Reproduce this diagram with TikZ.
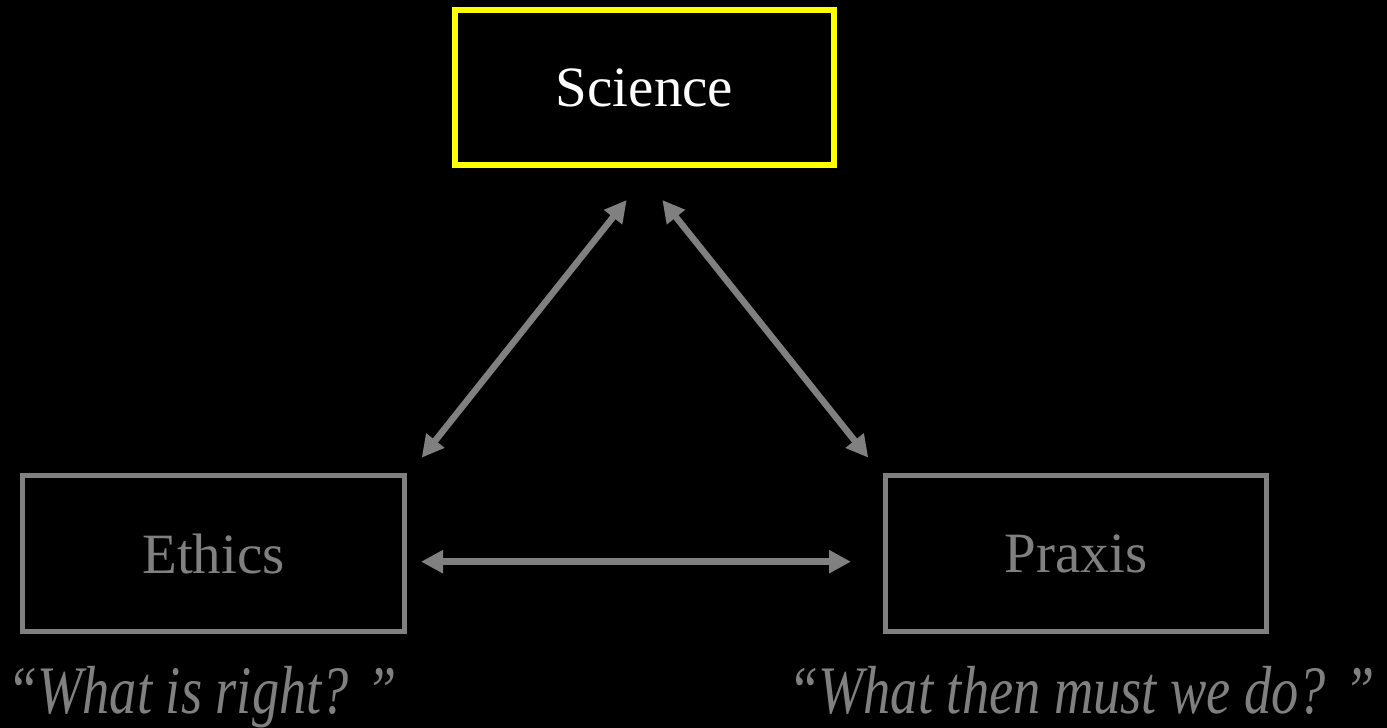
\documentclass[tikz,border=0pt]{standalone}
\usepackage{fontspec}
\setmainfont{Liberation Serif}
\usetikzlibrary{arrows.meta}
\definecolor{grayc}{RGB}{128,128,128}
\definecolor{yelc}{RGB}{255,255,0}
\tikzset{
  box/.style={draw=grayc, line width=5pt, rectangle, outer sep=0pt, inner sep=0pt,
    minimum width=382pt, minimum height=156pt, text=grayc, font=\fontsize{57}{60}\selectfont},
  topbox/.style={box, draw=yelc, line width=6pt, minimum width=379pt, minimum height=155pt, text=white},
  arr/.style={draw=grayc, line width=6.5pt, {Triangle[length=22pt,width=22pt]}-{Triangle[length=22pt,width=22pt]}},
  quote/.style={text=grayc, inner sep=0pt, anchor=base west, font=\fontsize{68}{70}\selectfont\itshape}
}
\begin{document}
\begin{tikzpicture}[x=1pt,y=-1pt]
\fill[black] (0,0) rectangle (1387,728);
\useasboundingbox (0,0) rectangle (1387,728);
\node[topbox] (science) at (644.5,87.5) {Science};
\node[box] (ethics) at (213.5,553.5) {Ethics};
\node[box, minimum width=381pt] (praxis) at (1076,553.5) {Praxis};
\draw[arr] ([xshift=17.2pt,yshift=17.8pt]ethics.north east) -- ([xshift=-17.8pt,yshift=-35pt]science.south);
\draw[arr] ([xshift=-17.2pt,yshift=17.8pt]praxis.north west) -- ([xshift=17.8pt,yshift=-35pt]science.south);
\draw[arr] ([xshift=16.5pt,yshift=-8.2pt]ethics.east) -- ([xshift=-34.5pt,yshift=-8.2pt]praxis.west);
\node[quote] (q1) at (7,713) {\scalebox{0.8}[1]{“What is right? ”}};
\node[quote] (q2) at (788,713) {\scalebox{0.8}[1]{“What then must we do? ”}};
\end{tikzpicture}
\end{document}
